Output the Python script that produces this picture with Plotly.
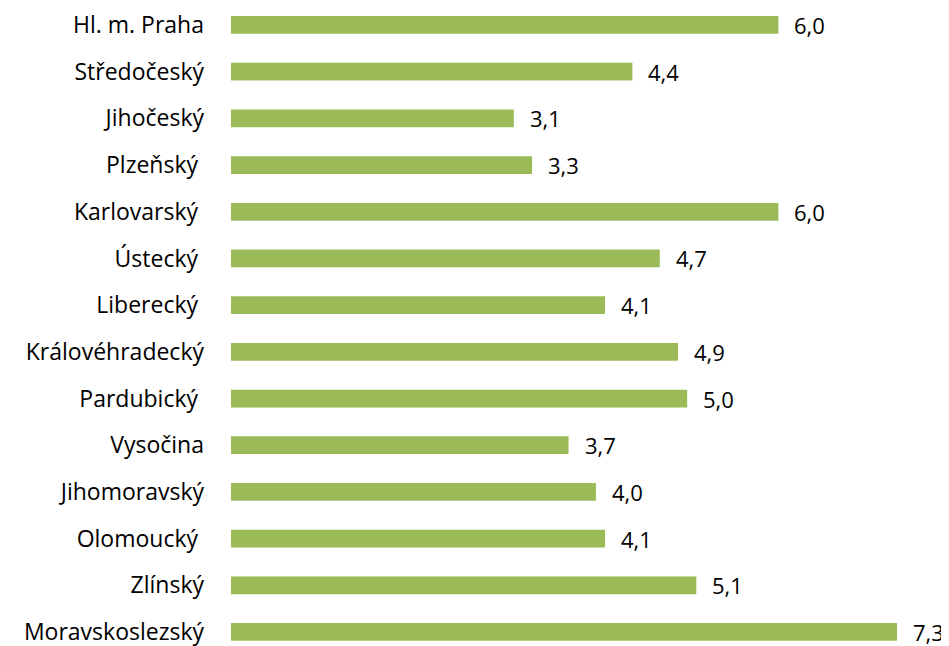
import plotly.graph_objects as go

# regions (Czech), top to bottom
regions = ["Hl. m. Praha", "Středočeský", "Jihočeský", "Plzeňský ", "Karlovarský ",
           "Ústecký ", "Liberecký ", "Královéhradecký", "Pardubický ", "Vysočina",
           "Jihomoravský", "Olomoucký ", "Zlínský", "Moravskoslezský"]
values = [6.0, 4.4, 3.1, 3.3, 6.0, 4.7, 4.1, 4.9, 5.0, 3.7, 4.0, 4.1, 5.1, 7.3]
value_labels = [f"{v:.1f}".replace(".", ",") for v in values]

FONT = "Open Sans"
GREEN = "#9BBB59"

fig = go.Figure(go.Bar(
    y=regions,
    x=values,
    orientation="h",
    marker=dict(color=GREEN, line=dict(width=0)),
    width=0.38,
    hoverinfo="skip",
))

# value labels to the right of the bars
for r, v, lab in zip(regions, values, value_labels):
    fig.add_annotation(x=v, y=r, text=lab, showarrow=False, xanchor="left",
                       xshift=14, font=dict(family=FONT, size=22, color="#000000"))

# page body has an 8px margin, so the figure is a bit smaller than the window
fig.update_layout(
    width=941, height=638,
    margin=dict(l=223, r=0, t=0, b=0),
    plot_bgcolor="white", paper_bgcolor="white",
    showlegend=False,
    font=dict(family=FONT, size=23, color="#000000"),
    xaxis=dict(range=[0, 7.87], visible=False, showgrid=False, zeroline=False),
    yaxis=dict(type="category", range=[13.3, -0.364], showgrid=False,
               zeroline=False, showline=False, ticks="", ticklabelstandoff=26,
               automargin=False,
               tickfont=dict(family=FONT, size=23, color="#000000")),
)

fig.write_html("out.html")
